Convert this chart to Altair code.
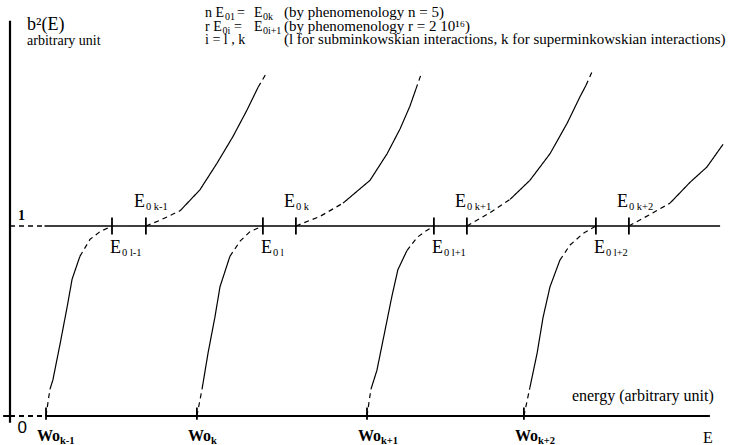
import altair as alt
import pandas as pd

# Threshold energies (arbitrary units) and level labels
E0_l = [3.40, 8.43, 14.13, 19.53]     # E0 l-1, E0 l, E0 l+1, E0 l+2
E0_k = [4.53, 9.53, 15.23, 20.63]     # E0 k-1, E0 k, E0 k+1, E0 k+2
Wo_k = [1.20, 6.23, 11.90, 17.13]     # Wo k-1 ... Wo k+2
sub_l = ["0 l-1", "0 l", "0 l+1", "0 l+2"]
sub_k = ["0 k-1", "0 k", "0 k+1", "0 k+2"]
sub_w = ["k-1", "k", "k+1", "k+2"]

# Rising branches b^2: 0 -> 1 between Wo and E0_l
rise1_x = [1.20, 1.33, 1.43, 1.67, 1.90, 2.07, 2.33, 2.67, 3.00, 3.40]
rise1_y = [0.00, 0.14, 0.19, 0.38, 0.57, 0.72, 0.84, 0.93, 0.97, 1.00]
rise2_x = [6.23, 6.40, 6.60, 6.83, 7.00, 7.33, 7.67, 8.00, 8.43]
rise2_y = [0.00, 0.14, 0.33, 0.52, 0.68, 0.84, 0.92, 0.97, 1.00]
rise3_x = [11.90, 12.03, 12.23, 12.50, 12.73, 12.93, 13.23, 13.57, 13.83, 14.13]
rise3_y = [0.00, 0.14, 0.24, 0.45, 0.63, 0.77, 0.87, 0.94, 0.97, 1.00]
rise4_x = [17.13, 17.33, 17.57, 17.77, 18.00, 18.33, 18.67, 19.10, 19.53]
rise4_y = [0.00, 0.15, 0.33, 0.52, 0.68, 0.82, 0.90, 0.96, 1.00]

# Growing branches b^2 > 1 starting at E0_k
grow1_x = [4.53, 5.00, 5.67, 6.33, 6.90, 7.43, 7.90, 8.27, 8.57]
grow1_y = [1.00, 1.03, 1.08, 1.19, 1.33, 1.47, 1.61, 1.73, 1.81]
grow2_x = [9.53, 10.33, 11.10, 12.00, 12.57, 13.00, 13.33, 13.53, 13.73]
grow2_y = [1.00, 1.05, 1.12, 1.24, 1.38, 1.51, 1.63, 1.72, 1.81]
grow3_x = [15.23, 16.00, 16.67, 17.33, 18.00, 18.57, 19.00, 19.20, 19.40]
grow3_y = [1.00, 1.07, 1.14, 1.24, 1.38, 1.54, 1.68, 1.74, 1.81]
grow4_x = [20.63, 21.33, 22.00, 22.67, 23.23, 23.77]
grow4_y = [1.00, 1.06, 1.12, 1.23, 1.31, 1.43]

# (x, y, first solid index, last solid index)
curves = [
    (rise1_x, rise1_y, 1, 6), (rise2_x, rise2_y, 1, 5),
    (rise3_x, rise3_y, 1, 6), (rise4_x, rise4_y, 1, 5),
    (grow1_x, grow1_y, 2, 7), (grow2_x, grow2_y, 2, 7),
    (grow3_x, grow3_y, 2, 7), (grow4_x, grow4_y, 2, 5),
]

SERIF = "'Liberation Serif', 'Times New Roman', Times, serif"
SANS = "'Liberation Sans', Arial, sans-serif"

X_MAX = 24.0
Y_MAX = 2.11
xs = alt.Scale(domain=[0, X_MAX], nice=False, zero=False)
ys = alt.Scale(domain=[0, Y_MAX], nice=False, zero=False)
dash_scale = alt.Scale(domain=["solid", "dashed"], range=[[1, 0], [5, 4]])

# split every curve into dashed / solid / dashed pieces
rows = []
seg = 0
for cx, cy, s0, s1 in curves:
    for lo, hi, style in [(0, s0, "dashed"), (s0, s1, "solid"), (s1, len(cx) - 1, "dashed")]:
        if hi > lo:
            for i in range(lo, hi + 1):
                rows.append({"seg": seg, "i": i, "x": cx[i], "y": cy[i], "style": style})
            seg += 1
curve_df = pd.DataFrame(rows)

# axes and the b^2 = 1 reference level
axis_rows = [
    {"seg": "yaxis", "i": 0, "x": 0.0, "y": -0.035, "style": "solid"},
    {"seg": "yaxis", "i": 1, "x": 0.0, "y": 2.08, "style": "solid"},
    {"seg": "x0a", "i": 0, "x": -0.23, "y": 0.0, "style": "solid"},
    {"seg": "x0a", "i": 1, "x": 0.0, "y": 0.0, "style": "solid"},
    {"seg": "x0b", "i": 0, "x": 0.0, "y": 0.0, "style": "dashed"},
    {"seg": "x0b", "i": 1, "x": Wo_k[0], "y": 0.0, "style": "dashed"},
    {"seg": "x0c", "i": 0, "x": Wo_k[0], "y": 0.0, "style": "solid"},
    {"seg": "x0c", "i": 1, "x": 23.33, "y": 0.0, "style": "solid"},
]
level_rows = [
    {"seg": "l1a", "i": 0, "x": 0.0, "y": 1.0, "style": "dashed"},
    {"seg": "l1a", "i": 1, "x": 1.15, "y": 1.0, "style": "dashed"},
    {"seg": "l1b", "i": 0, "x": 1.15, "y": 1.0, "style": "solid"},
    {"seg": "l1b", "i": 1, "x": 23.67, "y": 1.0, "style": "solid"},
]


def lines(df, width):
    return alt.Chart(df).mark_line(color="black", strokeWidth=width).encode(
        x=alt.X("x:Q", scale=xs, axis=None),
        y=alt.Y("y:Q", scale=ys, axis=None),
        detail="seg:N",
        order="i:Q",
        strokeDash=alt.StrokeDash("style:N", scale=dash_scale, legend=None),
    )


ticks_e = pd.DataFrame({"x": E0_l + E0_k, "y": 0.955, "y2": 1.045})
ticks_w = pd.DataFrame({"x": Wo_k, "y": -0.02, "y2": 0.045})


def ticks(df):
    return alt.Chart(df).mark_rule(color="black", strokeWidth=1.8).encode(
        x=alt.X("x:Q", scale=xs, axis=None),
        y=alt.Y("y:Q", scale=ys, axis=None),
        y2="y2:Q",
    )


def text(df, size, dx=0, dy=0, weight="normal", font=SERIF):
    return alt.Chart(df).mark_text(
        align="left", baseline="alphabetic", font=font, fontSize=size,
        fontWeight=weight, dx=dx, dy=dy, color="black",
    ).encode(
        x=alt.X("x:Q", scale=xs, axis=None),
        y=alt.Y("y:Q", scale=ys, axis=None),
        text="t:N",
    )


above = pd.DataFrame({"x": E0_k, "y": 1.0, "t": "E", "s": sub_k})
below = pd.DataFrame({"x": E0_l, "y": 1.0, "t": "E", "s": sub_l})
wo = pd.DataFrame({"x": Wo_k, "y": 0.0, "t": "Wo", "s": sub_w})

# header: formulas on the left, comments on the right
head_main = pd.DataFrame({
    "x": [6.50, 7.57, 8.13, 6.50, 7.47, 8.13, 6.50],
    "y": [2.10, 2.10, 2.10, 2.026, 2.026, 2.026, 1.955],
    "t": ["n E", "=", "E", "r E", "=", "E", "i = l , k"],
})
head_sub = pd.DataFrame({
    "x": [7.17, 8.43, 7.08, 8.43],
    "y": [2.084, 2.084, 2.011, 2.011],
    "t": ["01", "0k", "0i", "0i+1"],
})
head_note = pd.DataFrame({
    "x": [9.13, 9.13, 9.13],
    "y": [2.10, 2.026, 1.955],
    "t": ["(by  phenomenology  n = 5)",
          "(by  phenomenology  r = 2 10\u00b9\u2076)",
          "(l for subminkowskian interactions, k for superminkowskian interactions)"],
})

ylab = pd.DataFrame({"x": [0.57], "y": [2.03], "t": ["b\u00b2(E)"]})
yunit = pd.DataFrame({"x": [0.57], "y": [1.953], "t": ["arbitrary unit"]})
one = pd.DataFrame({"x": [0.27], "y": [1.03], "t": ["1"]})
zero = pd.DataFrame({"x": [0.25], "y": [-0.09], "t": ["0"]})
xunit = pd.DataFrame({"x": [18.73], "y": [0.079], "t": ["energy (arbitrary unit)"]})
xlab = pd.DataFrame({"x": [23.1], "y": [-0.142], "t": ["E"]})

chart = alt.layer(
    lines(pd.DataFrame(axis_rows), 2.2),
    lines(pd.DataFrame(level_rows), 1.5),
    lines(curve_df, 1.2),
    ticks(ticks_e),
    ticks(ticks_w),
    text(above, 18, dx=-12, dy=-19),
    text(above.assign(t=above["s"]), 10.5, dx=0, dy=-16),
    text(below, 18, dx=-2, dy=27),
    text(below.assign(t=below["s"]), 10.5, dx=10, dy=30),
    text(wo, 16, dx=-9, dy=25, weight="bold"),
    text(wo.assign(t=wo["s"]), 10.5, dx=14, dy=28, weight="bold"),
    text(head_main, 14),
    text(head_sub, 10),
    text(head_note, 15),
    text(ylab, 18),
    text(yunit, 14),
    text(one, 14, weight="bold"),
    text(zero, 17, font=SANS),
    text(xunit, 16),
    text(xlab, 16),
).properties(
    width=720,
    height=401,
    autosize=alt.AutoSizeParams(type="none"),
    padding={"left": 10, "top": 15, "right": 7, "bottom": 29},
    background="white",
).configure_view(strokeWidth=0)

chart.save("out.html", embed_options={"renderer": "svg", "actions": False})
